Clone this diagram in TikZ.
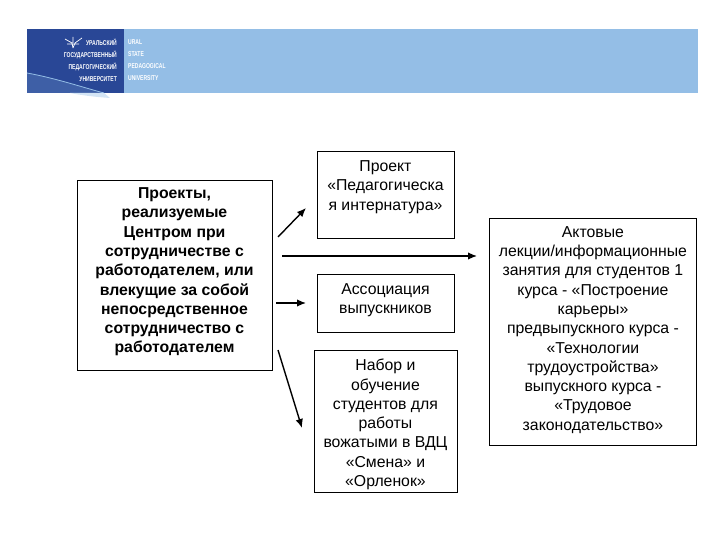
\documentclass[tikz,border=0pt]{standalone}
\usepackage{fontspec}
\setmainfont{Liberation Sans}
\usetikzlibrary{positioning, arrows.meta}
\definecolor{bannerdark}{RGB}{41,71,150}
\definecolor{bannerlight}{RGB}{148,190,230}
\tikzset{
  box/.style = {draw, line width=.9pt, fill=white, align=center, inner sep=0pt, font=\fontsize{15.8}{19.3}\selectfont},
  flow/.style = {-{Latex[length=9pt, width=7.5pt]}, line width=1.4pt},
  uni/.style = {inner sep=0pt, text=white, xscale=.72, font=\bfseries\fontsize{7}{12}\selectfont}
}
\begin{document}
\begin{tikzpicture}[x=1pt, y=-1pt]
\useasboundingbox (0,0) rectangle (720,540);
% banner
\fill[bannerlight] (124,29) rectangle (698,93);
\fill[bannerdark] (27,29) rectangle (124,93);
\fill[bannerlight!20!bannerdark] (27,73) .. controls (55,78) and (85,88) .. (104,93) -- (27,93) -- cycle;
\draw[bannerlight, line width=.8pt] (27,73) .. controls (55,78) and (85,88) .. (104,93);
\fill[bannerlight!40!white] (70,93) -- (104,93) -- (110,98) .. controls (95,97) and (80,95) .. (70,93) -- cycle;
\draw[white, line width=.7pt] (65,39) -- (72,43) -- (73,48) (82,38) -- (75,43) -- (73,48) (73,37) -- (73,43) (67,44) -- (79,44);
\node[uni, align=right, anchor=north east] (uralru) at (117,39) {УРАЛЬСКИЙ\\ГОСУДАРСТВЕННЫЙ\\ПЕДАГОГИЧЕСКИЙ\\УНИВЕРСИТЕТ};
\node[uni, align=left, anchor=north west] (uralen) at (128,39) {URAL\\STATE\\PEDAGOGICAL\\UNIVERSITY};
% boxes
\node[box, minimum width=195pt, minimum height=190pt, font=\bfseries\fontsize{15.8}{19.3}\selectfont] (center) at (174.5,275) {Проекты,\\реализуемые\\Центром при\\сотрудничестве с\\работодателем, или\\влекущие за собой\\непосредственное\\сотрудничество с\\работодателем\\[-10pt]};
\node[box, minimum width=137pt, minimum height=87pt, anchor=north west] (intern) at (316.5,151) {Проект\\«Педагогическа\\я интернатура»\\[0pt]};
\node[box, minimum width=137pt, minimum height=58pt] (assoc) [below=35pt of intern] {Ассоциация\\выпускников\\[-10pt]};
\node[box, minimum width=143pt, minimum height=142pt] (nabor) [below=17pt of assoc] {\rule{0pt}{18pt}Набор и\\обучение\\студентов для\\работы\\вожатыми в ВДЦ\\«Смена» и\\«Орленок»};
\node[box, minimum width=207pt, minimum height=227pt, anchor=north west] (lect) at (489,218) {Актовые\\лекции/информационные\\занятия для студентов 1\\курса - «Построение\\карьеры»\\предвыпускного курса -\\«Технологии\\трудоустройства»\\выпускного курса -\\«Трудовое\\законодательство»\\[-12pt]};
% arrows
\coordinate (a1) at (278,237);
\coordinate (b1) at (306,208);
\coordinate (a2) at (282,256);
\coordinate (b2) at (477,256);
\coordinate (a3) at (276,303);
\coordinate (b3) at (306,303);
\coordinate (a4) at (278,350);
\coordinate (b4) at (302,428);
\draw[flow] (a1) -- (b1);
\draw[flow] (a2) -- (b2);
\draw[flow] (a3) -- (b3);
\draw[flow] (a4) -- (b4);
\end{tikzpicture}
\end{document}
